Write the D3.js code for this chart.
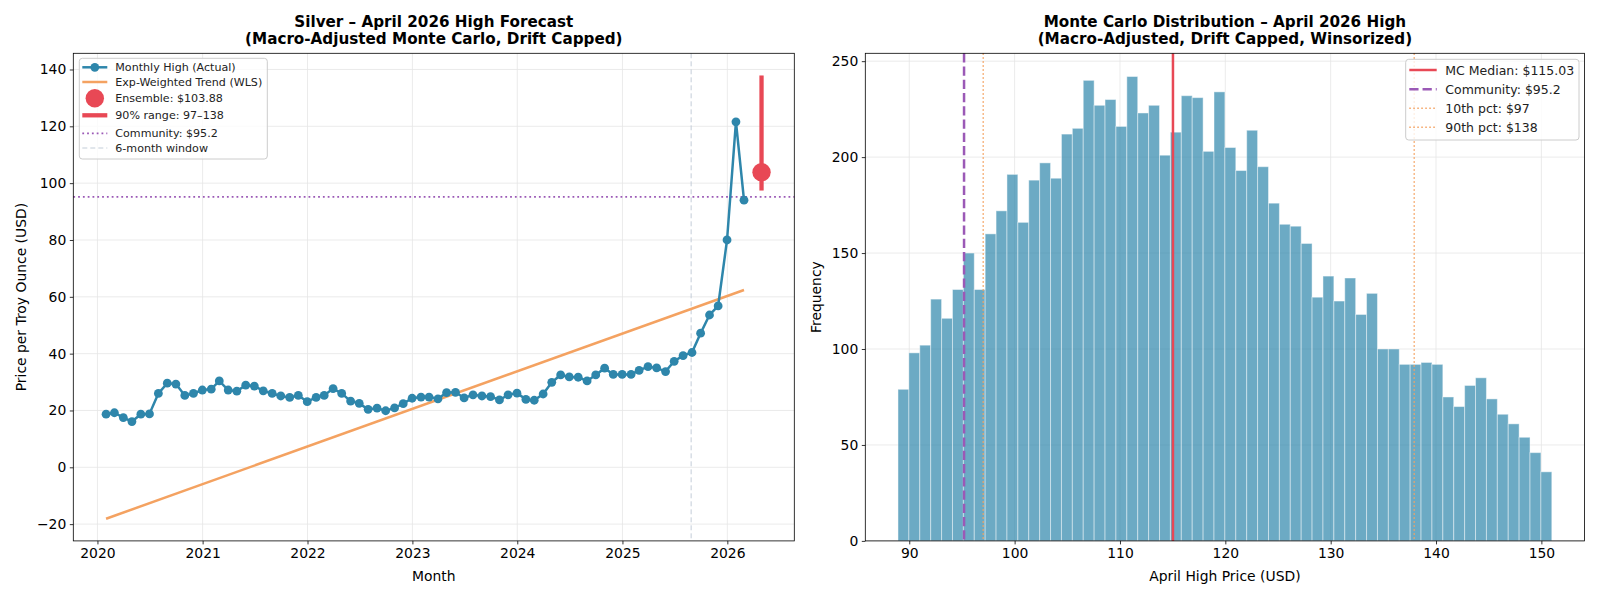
<!DOCTYPE html>
<html>
<head>
<meta charset="utf-8">
<script src="https://cdn.jsdelivr.net/npm/d3@7"></script>
<style>
  body { margin: 0; background: #fff; }
  text { font-family: "DejaVu Sans", sans-serif; }
</style>
</head>
<body>
<div id="chart"></div>
<script>
// ---- data ----
const firstMonth = new Date(2020, 0, 1);   // Jan 2020
const lastMonth = new Date(2026, 1, 1);    // Feb 2026
const monthlyHigh = [
  18.7, 19.2, 17.5, 16.1, 18.7, 18.8, 26.0, 29.6, 29.3, 25.3, 26.0, 27.2,
  27.5, 30.4, 27.2, 26.8, 28.9, 28.6, 26.9, 26.0, 25.1, 24.6, 25.3, 23.1,
  24.6, 25.3, 27.7, 26.0, 23.3, 22.5, 20.4, 20.8, 19.9, 20.9, 22.4, 24.3,
  24.7, 24.7, 24.1, 26.3, 26.4, 24.4, 25.5, 25.1, 24.9, 23.7, 25.5, 26.1,
  23.9, 23.6, 25.8, 29.9, 32.5, 31.8, 31.7, 30.4, 32.5, 34.9, 32.7, 32.7,
  32.7, 34.1, 35.4, 35.0, 33.7, 37.3, 39.3, 40.4, 47.2, 53.6, 56.8, 80.0,
  121.6, 94.0
];
const trendEnds = [-18.1, 62.4];            // WLS trend at first and last month
const forecastDate = new Date(2026, 3, 30);
const ensemble = 103.88;
const range90 = [97.4, 137.9];
const community = 95.2;
const windowStart = new Date(2025, 7, 28);

const histRange = [88.93, 150.99];
const histCounts = [
  79, 98, 102, 126, 116, 131, 150, 131, 160, 172,
  191, 166, 188, 197, 189, 212, 215, 240, 227, 230,
  216, 242, 223, 227, 201, 213, 232, 231, 203, 234,
  205, 193, 214, 195, 176, 165, 164, 155, 127, 138,
  125, 137, 118, 129, 100, 100, 92, 92, 93, 92,
  75, 70, 81, 85, 74, 66, 61, 54, 46, 36
];
const mcMedian = 115.03;
const pct10 = 97.02;
const pct90 = 137.93;

const BLUE = "#2E86AB", ORANGE = "#F4A261", RED = "#E84855", PURPLE = "#9B59B6";
const GRID = "#e6e6e6";

const svg = d3.select("#chart").append("svg")
  .attr("width", 1600)
  .attr("height", 599);

function pad(ext) {
  const p = (ext[1] - ext[0]) * 0.05;
  return [ext[0] - p, ext[1] + p];
}

function styleAxis(g) {
  g.attr("font-family", "DejaVu Sans").attr("font-size", "13.9px");
  g.select(".domain").remove();
  g.selectAll(".tick line").attr("stroke", "#000").attr("stroke-width", 0.8);
  g.selectAll(".tick text").attr("fill", "#000");
}

function title(cx, l1, l2) {
  const t = svg.append("text")
    .attr("text-anchor", "middle")
    .attr("font-weight", "bold")
    .attr("font-size", "15.2px");
  t.append("tspan").attr("x", cx).attr("y", 27).text(l1);
  t.append("tspan").attr("x", cx).attr("y", 44).text(l2);
}

function legendBox(x, y, w, h) {
  svg.append("rect")
    .attr("x", x).attr("y", y).attr("width", w).attr("height", h)
    .attr("rx", 3)
    .attr("fill", "#fff").attr("fill-opacity", 0.8)
    .attr("stroke", "#cccccc").attr("stroke-width", 1);
}

// ================= LEFT PANEL =================
const L = {left: 73.3, right: 794.3, top: 53.3, bottom: 540.9};
const months = d3.timeMonth.range(firstMonth, d3.timeMonth.offset(lastMonth, 1));
const dates = months.map(m => d3.timeDay.offset(d3.timeMonth.offset(m, 1), -1));
const series = dates.map((d, i) => ({date: d, value: monthlyHigh[i]}));

const xL = d3.scaleTime()
  .domain(pad([+dates[0], +forecastDate]).map(v => new Date(v)))
  .range([L.left, L.right]);
const yL = d3.scaleLinear()
  .domain(pad([d3.min([...monthlyHigh, ...trendEnds]), d3.max([...monthlyHigh, range90[1]])]))
  .range([L.bottom, L.top]);

const gL = svg.append("g");
const yearTicks = xL.ticks(d3.timeYear.every(1));

// grid
gL.selectAll(".gx").data(yearTicks).enter().append("line")
  .attr("x1", d => xL(d)).attr("x2", d => xL(d))
  .attr("y1", L.top).attr("y2", L.bottom)
  .attr("stroke", GRID).attr("stroke-width", 0.8);
gL.selectAll(".gy").data(yL.ticks(8)).enter().append("line")
  .attr("x1", L.left).attr("x2", L.right)
  .attr("y1", d => yL(d)).attr("y2", d => yL(d))
  .attr("stroke", GRID).attr("stroke-width", 0.8);

// 6-month window
gL.append("line")
  .attr("x1", xL(windowStart)).attr("x2", xL(windowStart))
  .attr("y1", L.top).attr("y2", L.bottom)
  .attr("stroke", "#c3cdd8").attr("stroke-width", 1)
  .attr("stroke-dasharray", "5,3");

// community line
gL.append("line")
  .attr("x1", L.left).attr("x2", L.right)
  .attr("y1", yL(community)).attr("y2", yL(community))
  .attr("stroke", PURPLE).attr("stroke-width", 1.8)
  .attr("stroke-dasharray", "1.8,3");

// trend
gL.append("line")
  .attr("x1", xL(dates[0])).attr("y1", yL(trendEnds[0]))
  .attr("x2", xL(dates[dates.length - 1])).attr("y2", yL(trendEnds[1]))
  .attr("stroke", ORANGE).attr("stroke-width", 2.5);

// actual monthly high
gL.append("path")
  .datum(series)
  .attr("fill", "none")
  .attr("stroke", BLUE).attr("stroke-width", 2.5)
  .attr("d", d3.line().x(d => xL(d.date)).y(d => yL(d.value)));
gL.selectAll(".pt").data(series).enter().append("circle")
  .attr("cx", d => xL(d.date)).attr("cy", d => yL(d.value))
  .attr("r", 4.4).attr("fill", BLUE);

// forecast range + ensemble
gL.append("line")
  .attr("x1", xL(forecastDate)).attr("x2", xL(forecastDate))
  .attr("y1", yL(range90[0])).attr("y2", yL(range90[1]))
  .attr("stroke", RED).attr("stroke-width", 4.3);
gL.append("circle")
  .attr("cx", xL(forecastDate)).attr("cy", yL(ensemble))
  .attr("r", 9.2).attr("fill", RED);

// spines + axes
svg.append("rect")
  .attr("x", L.left).attr("y", L.top)
  .attr("width", L.right - L.left).attr("height", L.bottom - L.top)
  .attr("fill", "none").attr("stroke", "#000").attr("stroke-width", 0.8);
svg.append("g")
  .attr("transform", `translate(0,${L.bottom})`)
  .call(d3.axisBottom(xL).tickValues(yearTicks).tickFormat(d3.timeFormat("%Y"))
    .tickSizeInner(3.5).tickSizeOuter(0).tickPadding(3.5))
  .call(styleAxis);
svg.append("g")
  .attr("transform", `translate(${L.left},0)`)
  .call(d3.axisLeft(yL).ticks(8).tickSizeInner(3.5).tickSizeOuter(0).tickPadding(3.5))
  .call(styleAxis);

svg.append("text")
  .attr("x", (L.left + L.right) / 2).attr("y", 581)
  .attr("text-anchor", "middle").attr("font-size", "13.9px")
  .text("Month");
svg.append("text")
  .attr("transform", `translate(26,${(L.top + L.bottom) / 2}) rotate(-90)`)
  .attr("text-anchor", "middle").attr("font-size", "13.9px")
  .text("Price per Troy Ounce (USD)");

title((L.left + L.right) / 2, "Silver – April 2026 High Forecast",
  "(Macro-Adjusted Monte Carlo, Drift Capped)");

// left legend
legendBox(79.3, 58.3, 188, 100.7);
const legL = [
  {label: "Monthly High (Actual)", kind: "marker"},
  {label: "Exp-Weighted Trend (WLS)", kind: "trend"},
  {label: "Ensemble: $103.88", kind: "dot"},
  {label: "90% range: 97–138", kind: "bar"},
  {label: "Community: $95.2", kind: "dotted"},
  {label: "6-month window", kind: "dashed"}
];
const legLy = [67.3, 82, 98.3, 115.3, 133.3, 148];
legL.forEach((e, i) => {
  const cy = legLy[i], x0 = 82.3, x1 = 107.3;
  const g = svg.append("g");
  if (e.kind === "marker") {
    g.append("line").attr("x1", x0).attr("x2", x1).attr("y1", cy).attr("y2", cy)
      .attr("stroke", BLUE).attr("stroke-width", 2.5);
    g.append("circle").attr("cx", (x0 + x1) / 2).attr("cy", cy).attr("r", 4.4).attr("fill", BLUE);
  } else if (e.kind === "trend") {
    g.append("line").attr("x1", x0).attr("x2", x1).attr("y1", cy).attr("y2", cy)
      .attr("stroke", ORANGE).attr("stroke-width", 2.5);
  } else if (e.kind === "dot") {
    g.append("circle").attr("cx", (x0 + x1) / 2).attr("cy", cy).attr("r", 9.2).attr("fill", RED);
  } else if (e.kind === "bar") {
    g.append("line").attr("x1", x0).attr("x2", x1).attr("y1", cy).attr("y2", cy)
      .attr("stroke", RED).attr("stroke-width", 4.3);
  } else if (e.kind === "dotted") {
    g.append("line").attr("x1", x0).attr("x2", x1).attr("y1", cy).attr("y2", cy)
      .attr("stroke", PURPLE).attr("stroke-width", 1.8).attr("stroke-dasharray", "1.8,3");
  } else {
    g.append("line").attr("x1", x0).attr("x2", x1).attr("y1", cy).attr("y2", cy)
      .attr("stroke", "#c3cdd8").attr("stroke-width", 1).attr("stroke-dasharray", "5,3");
  }
  svg.append("text")
    .attr("x", 115.3).attr("y", cy + 4)
    .attr("font-size", "11.1px").attr("fill", "#222")
    .text(e.label);
});

// ================= RIGHT PANEL =================
const R = {left: 865.3, right: 1584.5, top: 53.3, bottom: 540.9};
const nBins = histCounts.length;
const binW = (histRange[1] - histRange[0]) / nBins;
const bins = histCounts.map((c, i) => ({x0: histRange[0] + i * binW, x1: histRange[0] + (i + 1) * binW, count: c}));

const xR = d3.scaleLinear().domain(pad(histRange)).range([R.left, R.right]);
const yR = d3.scaleLinear().domain([0, d3.max(histCounts) * 1.05]).range([R.bottom, R.top]);

const gR = svg.append("g");
gR.selectAll(".gx").data(xR.ticks(8)).enter().append("line")
  .attr("x1", d => xR(d)).attr("x2", d => xR(d))
  .attr("y1", R.top).attr("y2", R.bottom)
  .attr("stroke", GRID).attr("stroke-width", 0.8);
gR.selectAll(".gy").data(yR.ticks(6)).enter().append("line")
  .attr("x1", R.left).attr("x2", R.right)
  .attr("y1", d => yR(d)).attr("y2", d => yR(d))
  .attr("stroke", GRID).attr("stroke-width", 0.8);

gR.selectAll(".bar").data(bins).enter().append("rect")
  .attr("x", d => xR(d.x0))
  .attr("width", d => xR(d.x1) - xR(d.x0))
  .attr("y", d => yR(d.count))
  .attr("height", d => yR(0) - yR(d.count))
  .attr("fill", BLUE).attr("fill-opacity", 0.7)
  .attr("stroke", "#ffffff").attr("stroke-opacity", 0.45).attr("stroke-width", 1);

const vlines = [
  {v: mcMedian, color: RED, w: 2.5, dash: null, label: "MC Median: $115.03"},
  {v: community, color: PURPLE, w: 2.5, dash: "9.25,4", label: "Community: $95.2"},
  {v: pct10, color: ORANGE, w: 1.5, dash: "1.5,2.5", label: "10th pct: $97"},
  {v: pct90, color: ORANGE, w: 1.5, dash: "1.5,2.5", label: "90th pct: $138"}
];
vlines.forEach(l => {
  gR.append("line")
    .attr("x1", xR(l.v)).attr("x2", xR(l.v))
    .attr("y1", R.top).attr("y2", R.bottom)
    .attr("stroke", l.color).attr("stroke-width", l.w)
    .attr("stroke-dasharray", l.dash);
});

svg.append("rect")
  .attr("x", R.left).attr("y", R.top)
  .attr("width", R.right - R.left).attr("height", R.bottom - R.top)
  .attr("fill", "none").attr("stroke", "#000").attr("stroke-width", 0.8);
svg.append("g")
  .attr("transform", `translate(0,${R.bottom})`)
  .call(d3.axisBottom(xR).ticks(8).tickSizeInner(3.5).tickSizeOuter(0).tickPadding(3.5))
  .call(styleAxis);
svg.append("g")
  .attr("transform", `translate(${R.left},0)`)
  .call(d3.axisLeft(yR).ticks(6).tickSizeInner(3.5).tickSizeOuter(0).tickPadding(3.5))
  .call(styleAxis);

svg.append("text")
  .attr("x", (R.left + R.right) / 2).attr("y", 581)
  .attr("text-anchor", "middle").attr("font-size", "13.9px")
  .text("April High Price (USD)");
svg.append("text")
  .attr("transform", `translate(821,${(R.top + R.bottom) / 2}) rotate(-90)`)
  .attr("text-anchor", "middle").attr("font-size", "13.9px")
  .text("Frequency");

title((R.left + R.right) / 2, "Monte Carlo Distribution – April 2026 High",
  "(Macro-Adjusted, Drift Capped, Winsorized)");

// right legend
legendBox(1405.7, 59.3, 173.3, 80.7);
const legRy = [70, 89.3, 108.3, 127.3];
vlines.forEach((l, i) => {
  const cy = legRy[i];
  svg.append("line")
    .attr("x1", 1409.3).attr("x2", 1436.7).attr("y1", cy).attr("y2", cy)
    .attr("stroke", l.color).attr("stroke-width", l.w)
    .attr("stroke-dasharray", l.dash);
  svg.append("text")
    .attr("x", 1445.3).attr("y", cy + 4.5)
    .attr("font-size", "12.5px").attr("fill", "#222")
    .text(l.label);
});
</script>
</body>
</html>
